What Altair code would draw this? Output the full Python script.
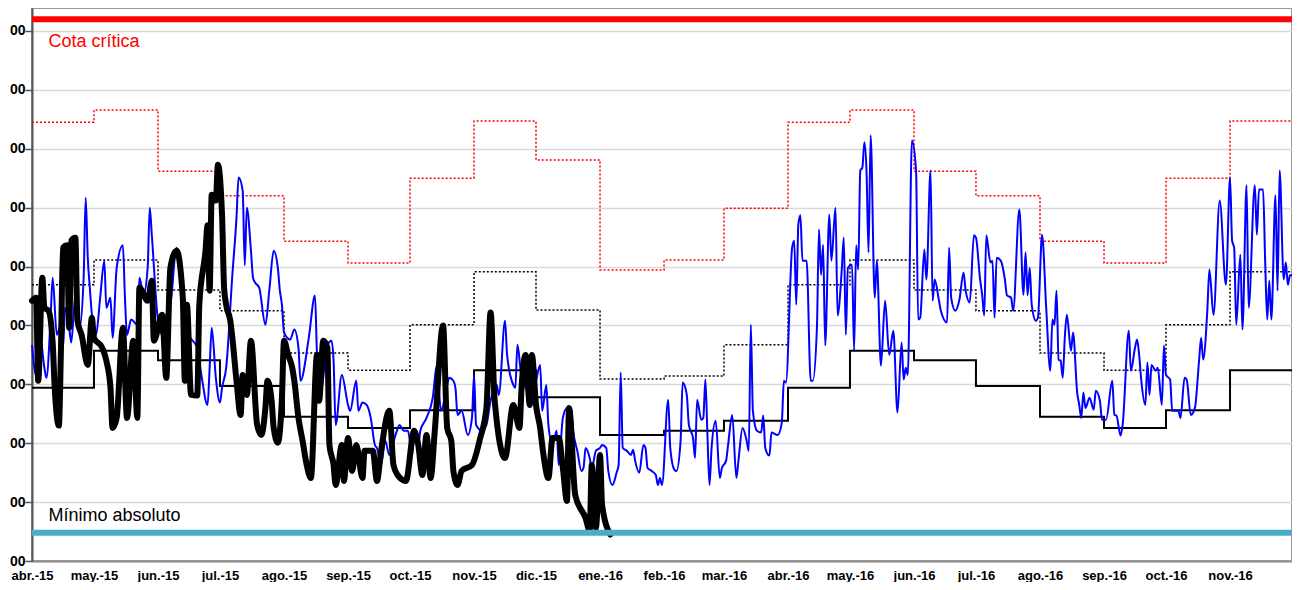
import json
import altair as alt
import pandas as pd

# ---------------- data ----------------
MONTH_DAYS = [0, 30, 61, 91, 122, 153, 183, 214, 244, 275, 306, 335,
              366, 396, 427, 457, 488, 519, 549, 580]          # days since 1 Apr 2015
MONTH_LABELS = ["abr.-15", "may.-15", "jun.-15", "jul.-15", "ago.-15", "sep.-15",
                "oct.-15", "nov.-15", "dic.-15", "ene.-16", "feb.-16", "mar.-16",
                "abr.-16", "may.-16", "jun.-16", "jul.-16", "ago.-16", "sep.-16",
                "oct.-16", "nov.-16"]
END_DAY = 610
Y_TICKS = [1000, 1100, 1200, 1300, 1400, 1500, 1600, 1700, 1800, 1900]

COTA_CRITICA = 1920
MINIMO_ABSOLUTO = 1048

# monthly reference levels (Apr-15 ... Nov-16)
UPPER_DOTTED = [1745, 1766, 1662, 1620, 1543, 1506, 1650, 1747, 1681, 1494, 1511, 1599,
                1745, 1766, 1662, 1620, 1543, 1506, 1650, 1747]
MIDDLE_DOTTED = [1469, 1511, 1460, 1425, 1353, 1324, 1401, 1491, 1426, 1309, 1314, 1367,
                 1469, 1511, 1460, 1425, 1353, 1324, 1401, 1491]
LOWER_SOLID = [1294, 1357, 1341, 1297, 1245, 1226, 1256, 1324, 1278, 1214, 1221, 1238,
               1294, 1357, 1341, 1297, 1245, 1226, 1256, 1324]

# blue series (day, value)
BLUE = [(0,1367),(2,1315),(4,1379),(6,1328),(7,1311),(9,1413),(10,1481),(12,1384),(14,1401),(15,1362),
(16,1430),(18,1396),(19,1371),(21,1452),(22,1413),(23,1396),(25,1481),(26,1617),(27,1515),(28,1464),
(29,1418),(31,1384),(33,1447),(35,1510),(36,1430),(38,1447),(39,1379),(41,1498),(44,1536),(45,1447),
(46,1384),(48,1410),(51,1401),(52,1481),(54,1452),(56,1498),(57,1600),(58,1554),(61,1408),(63,1384),
(65,1418),(67,1435),(70,1532),(72,1486),(74,1435),(76,1384),(80,1362),(82,1316),(85,1265),(86,1328),
(87,1396),(89,1311),(91,1269),(92,1294),(94,1328),(97,1486),(99,1583),(100,1651),(102,1629),(103,1502),
(104,1600),(106,1527),(107,1481),(108,1473),(110,1464),(113,1401),(115,1464),(117,1527),(119,1498),(120,1459),
(121,1435),(122,1388),(125,1376),(127,1393),(129,1362),(130,1306),(134,1379),(137,1451),(138,1350),(140,1294),
(143,1367),(145,1374),(146,1340),(147,1231),(150,1316),(153,1265),(154,1255),(157,1306),(158,1255),(160,1269),
(162,1265),(164,1243),(166,1197),(167,1192),(169,1163),(171,1204),(173,1180),(176,1214),(178,1231),(180,1221),
(182,1221),(184,1180),(185,1209),(187,1197),(188,1221),(191,1243),(194,1277),(196,1333),(198,1255),(201,1299),
(202,1311),(204,1306),(205,1294),(206,1248),(208,1255),(211,1214),(213,1243),(214,1316),(215,1231),(218,1221),
(219,1226),(220,1231),(222,1272),(225,1299),(226,1282),(229,1408),(230,1350),(233,1299),(234,1294),(235,1367),
(237,1311),(239,1294),(241,1282),(242,1345),(243,1294),(246,1333),(247,1255),(249,1299),(250,1231),(252,1197),
(254,1221),(255,1163),(257,1243),(259,1260),(261,1260),(262,1221),(264,1187),(266,1153),(267,1158),(268,1192),
(270,1175),(271,1158),(273,1187),(275,1192),(276,1197),(278,1192),(279,1153),(281,1129),(283,1150),(284,1163),
(285,1320),(286,1192),(288,1187),(290,1180),(291,1189),(292,1170),(294,1150),(296,1197),(297,1192),(298,1158),
(300,1153),(302,1146),(303,1129),(304,1141),(305,1129),(308,1274),(309,1192),(311,1155),(312,1153),(314,1204),
(315,1303),(317,1282),(318,1231),(320,1209),(321,1175),(322,1274),(324,1240),(325,1243),(326,1308),(327,1214),
(328,1129),(329,1192),(331,1238),(333,1141),(334,1158),(336,1170),(337,1197),(339,1248),(341,1141),(342,1170),
(344,1226),(346,1204),(347,1187),(348,1401),(349,1255),(351,1221),(353,1218),(354,1247),(355,1192),(357,1179),
(358,1218),(361,1214),(363,1235),(364,1306),(365,1303),(368,1532),(369,1544),(370,1435),(371,1571),(372,1587),
(373,1510),(375,1510),(377,1306),(378,1306),(380,1396),(381,1563),(382,1486),(383,1537),(384,1366),(386,1588),
(387,1510),(389,1600),(390,1417),(392,1493),(393,1549),(394,1384),(395,1498),(397,1503),(398,1357),(399,1536),
(400,1495),(401,1663),(402,1668),(403,1711),(404,1663),(405,1524),(406,1723),(408,1447),(409,1510),(411,1332),
(413,1442),(415,1350),(417,1391),(419,1252),(421,1371),(422,1308),(423,1328),(424,1316),(426,1714),(428,1663),
(429,1410),(430,1413),(432,1529),(433,1478),(435,1663),(436,1442),(437,1478),(439,1444),(440,1425),(443,1405),
(444,1532),(445,1447),(447,1425),(449,1444),(451,1490),(452,1459),(454,1439),(456,1553),(457,1549),(459,1478),
(460,1452),(461,1417),(462,1553),(464,1507),(465,1510),(466,1413),(467,1515),(469,1510),(471,1478),(472,1451),
(474,1447),(475,1425),(478,1597),(480,1452),(481,1524),(482,1451),(483,1498),(484,1435),(486,1408),(487,1413),
(489,1554),(491,1430),(493,1323),(494,1410),(495,1401),(496,1459),(497,1342),(498,1340),(499,1311),(500,1379),
(501,1418),(503,1357),(504,1388),(506,1286),(507,1265),(508,1243),(509,1286),(510,1260),(512,1277),(514,1257),
(515,1289),(517,1272),(518,1240),(520,1240),(523,1306),(524,1248),(525,1247),(527,1213),(528,1231),(531,1391),
(532,1323),(534,1362),(535,1376),(536,1350),(537,1308),(539,1265),(540,1337),(541,1282),(542,1333),(544,1323),
(545,1328),(547,1265),(548,1366),(549,1316),(551,1308),(552,1255),(555,1255),(556,1243),(558,1311),(559,1308),
(561,1248),(563,1260),(565,1340),(566,1379),(567,1342),(569,1425),(570,1495),(572,1418),(575,1612),(578,1469),
(580,1651),(581,1544),(582,1532),(583,1401),(585,1520),(586,1393),(588,1638),(589,1430),(592,1638),(593,1554),
(594,1631),(596,1631),(597,1510),(598,1410),(599,1476),(600,1410),(602,1621),(603,1459),(604,1663),(606,1478),
(607,1507),(608,1469),(609,1485),(610,1485)]

# thick black series (day, value)
BLACK = [(0,1442),(2,1447),(3,1306),(5,1481),(6,1430),(8,1425),(10,1371),(11,1294),(13,1230),(14,1357),
(15,1532),(17,1536),(18,1396),(19,1544),(21,1549),(22,1408),(24,1384),(27,1333),(29,1413),(30,1379),
(34,1362),(36,1340),(38,1294),(39,1226),(41,1243),(44,1396),(46,1243),(49,1374),(51,1243),(52,1464),
(56,1442),(58,1476),(59,1374),(63,1418),(65,1311),(67,1498),(70,1527),(73,1447),(74,1306),(75,1435),
(77,1282),(80,1281),(81,1435),(84,1527),(85,1570),(86,1459),(87,1622),(89,1612),(90,1673),(92,1588),
(93,1464),(94,1435),(96,1408),(97,1379),(99,1306),(101,1248),(102,1316),(104,1282),(106,1374),(109,1231),
(111,1214),(113,1260),(114,1306),(116,1272),(117,1226),(119,1201),(121,1277),(122,1374),(124,1350),(126,1328),
(127,1306),(129,1243),(131,1204),(133,1163),(135,1141),(138,1350),(139,1272),(141,1374),(143,1362),(144,1197),
(146,1163),(147,1129),(150,1197),(151,1136),(153,1209),(155,1153),(157,1197),(160,1141),(161,1187),(165,1187),
(167,1136),(169,1187),(173,1255),(175,1163),(177,1146),(181,1136),(185,1221),(187,1197),(189,1146),(191,1214),
(193,1141),(195,1221),(199,1400),(201,1226),(203,1204),(204,1153),(206,1129),(208,1153),(213,1163),(217,1209),
(220,1260),(222,1422),(224,1272),(229,1175),(233,1265),(236,1226),(237,1294),(239,1350),(241,1265),(242,1350),
(244,1265),(246,1226),(247,1197),(250,1141),(252,1209),(255,1209),(257,1158),(259,1102),(260,1260),(263,1112),
(268,1073),(270,1051),(271,1163),(273,1056),(275,1180),(276,1095),(280,1045)]

ANNOTATIONS = [
    {"day": 8, "value": 1882, "text": "Cota crítica", "color": "#ff0000"},
    {"day": 8, "value": 1076, "text": "Mínimo absoluto", "color": "#000000"},
]

# ---------------- chart ----------------
FONT = "Liberation Sans"

def step_frame(vals):
    return pd.DataFrame({"day": MONTH_DAYS + [END_DAY], "value": vals + [vals[-1]]})

def pairs_frame(pairs):
    return pd.DataFrame(pairs, columns=["day", "value"])

label_expr = "{}[indexof({}, datum.value)]".format(json.dumps(MONTH_LABELS), json.dumps(MONTH_DAYS))

X = alt.X("day:Q",
          scale=alt.Scale(domain=[0, END_DAY], nice=False, zero=False),
          axis=alt.Axis(values=MONTH_DAYS, labelExpr=label_expr, ticks=False, grid=False,
                        domainColor="#8c8c8c", domainWidth=2, labelFont=FONT,
                        labelFontWeight="bold", labelFontSize=13, labelColor="#000000",
                        labelPadding=8, labelOverlap=False, labelFlush=False, title=None))
Y = alt.Y("value:Q",
          scale=alt.Scale(domain=[1000, 1939], nice=False, zero=False),
          axis=alt.Axis(values=Y_TICKS, labelExpr="slice(format(datum.value, 'd'), -2)",
                        grid=True, gridColor="#d9d9d9", gridWidth=1.5,
                        tickSize=7, tickColor="#555555", tickWidth=1.5,
                        domainColor="#555555", domainWidth=2,
                        labelFont=FONT, labelFontWeight="bold", labelFontSize=14,
                        labelColor="#000000", labelPadding=0, title=None))

upper = alt.Chart(step_frame(UPPER_DOTTED)).mark_line(
    color="#ff0000", strokeWidth=1.5, strokeDash=[2, 2], interpolate="step-after").encode(x=X, y=Y)
middle = alt.Chart(step_frame(MIDDLE_DOTTED)).mark_line(
    color="#000000", strokeWidth=1.5, strokeDash=[2, 2], interpolate="step-after").encode(x=X, y=Y)
lower = alt.Chart(step_frame(LOWER_SOLID)).mark_line(
    color="#000000", strokeWidth=2, interpolate="step-after").encode(x=X, y=Y)

blue = alt.Chart(pairs_frame(BLUE)).mark_line(
    color="#0000ff", strokeWidth=2, interpolate="monotone").encode(x=X, y=Y)
black = alt.Chart(pairs_frame(BLACK)).mark_line(
    color="#000000", strokeWidth=6, interpolate="monotone", strokeJoin="round",
    strokeCap="round").encode(x=X, y=Y)

crit = alt.Chart(pd.DataFrame({"value": [COTA_CRITICA]})).mark_rule(
    color="#ff0000", strokeWidth=6).encode(y=Y)
minimo = alt.Chart(pd.DataFrame({"value": [MINIMO_ABSOLUTO]})).mark_rule(
    color="#4bacc6", strokeWidth=6).encode(y=Y)

texts = alt.Chart(pd.DataFrame(ANNOTATIONS)).mark_text(
    align="left", baseline="middle", font=FONT, fontSize=18).encode(
    x=X, y=Y, text="text:N", color=alt.Color("color:N", scale=None))

chart = alt.layer(upper, middle, lower, blue, black, minimo, crit, texts).properties(
    width=1260, height=553,
    autosize=alt.AutoSizeParams(type="none"),
    padding={"left": 24, "top": 0, "right": 0, "bottom": 21},
).configure_view(stroke="#999999", strokeWidth=2)

chart.save("out.html", embed_options={"renderer": "svg", "actions": False})
